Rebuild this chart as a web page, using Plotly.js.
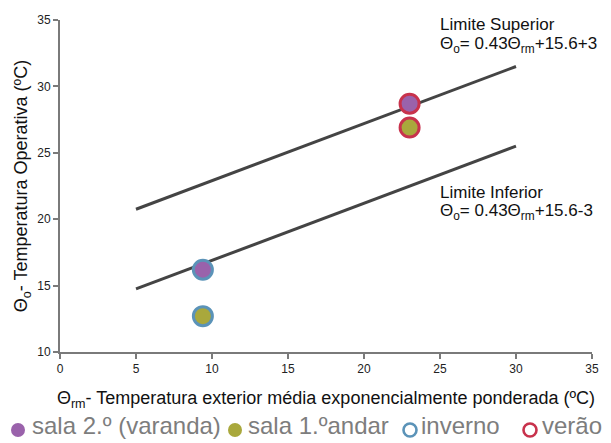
<!DOCTYPE html>
<html>
<head>
<meta charset="utf-8">
<script src="https://cdn.plot.ly/plotly-3.0.1.min.js"></script>
<style>html,body{margin:0;padding:0;background:#fff;}#chart{width:611px;height:443px;}</style>
</head>
<body>
<div id="chart"></div>
<script>
// Data
const seasons = ['inverno', 'verão'];
const rooms = ['sala 2.º (varanda)', 'sala 1.ºandar'];
const trm = [9.4, 23.0];                 // Θrm per season (inverno, verão)
const sala2 = [16.2, 28.7];              // sala 2.º (varanda)
const sala1 = [12.7, 26.9];              // sala 1.º andar
const limitX = [5, 30];
const limiteSuperior = [20.75, 31.5];
const limiteInferior = [14.75, 25.5];
const xTicks = [0, 5, 10, 15, 20, 25, 30, 35];
const yTicks = [10, 15, 20, 25, 30, 35];
const legendLabels = [rooms[0], rooms[1], seasons[0], seasons[1]];

const purple = '#9a62ab';
const olive = '#a9a83c';
const blue = '#5b93b8';
const red = '#c8324c';
const seasonColor = [blue, red];

const traces = [
  {x: limitX, y: limiteSuperior, mode: 'lines', line: {color: '#444', width: 3}, showlegend: false, hoverinfo: 'skip'},
  {x: limitX, y: limiteInferior, mode: 'lines', line: {color: '#444', width: 3}, showlegend: false, hoverinfo: 'skip'},
  {x: trm, y: sala2, mode: 'markers', name: rooms[0], showlegend: false,
   marker: {size: 19, color: purple, line: {color: seasonColor, width: 3}}},
  {x: trm, y: sala1, mode: 'markers', name: rooms[1], showlegend: false,
   marker: {size: 19, color: olive, line: {color: seasonColor, width: 3}}}
];

// plot area in pixels: x 60..592, y 20..352
const L = 60, R = 592, T = 20, B = 352;
const px = v => (v - L) / (R - L);
const py = v => (B - v) / (B - T);

const axisCommon = {
  showgrid: false, zeroline: false, showline: true, linecolor: '#7a7a7a', linewidth: 2,
  ticks: 'outside', ticklen: 5, tickwidth: 2, tickcolor: '#7a7a7a',
  tickfont: {size: 12, color: '#222'}, automargin: false
};

// legend built as shapes + text
const legendIcon = [
  {cx: 18, color: purple, open: false},
  {cx: 235, color: olive, open: false},
  {cx: 410, color: blue, open: true},
  {cx: 530, color: red, open: true}
];
const legendTextX = [30, 246, 419, 540];

const shapes = legendIcon.map(it => ({
  type: 'circle', xref: 'paper', yref: 'paper', xsizemode: 'pixel', ysizemode: 'pixel',
  xanchor: px(it.cx), yanchor: py(430),
  x0: it.open ? -6.5 : -7, x1: it.open ? 6.5 : 7, y0: it.open ? -6.5 : -7, y1: it.open ? 6.5 : 7,
  fillcolor: it.open ? 'rgba(0,0,0,0)' : it.color,
  line: {color: it.color, width: it.open ? 2.6 : 0}
}));

const annotations = legendLabels.map((t, i) => ({
  xref: 'paper', yref: 'paper', x: px(legendTextX[i]), y: py(425), xanchor: 'left', yanchor: 'middle',
  showarrow: false, text: t, font: {size: 24, color: '#7d7d7d'}
}));

const eqFont = {size: 17, color: '#111'};
annotations.push(
  {xref: 'paper', yref: 'paper', x: px(438), y: py(24.5), xanchor: 'left', yanchor: 'middle', showarrow: false,
   text: 'Limite Superior', font: eqFont},
  {xref: 'paper', yref: 'paper', x: px(438), y: py(44.5), xanchor: 'left', yanchor: 'middle', showarrow: false,
   text: 'Θ<sub>o</sub>= 0.43Θ<sub>rm</sub>+15.6+3', font: eqFont},
  {xref: 'paper', yref: 'paper', x: px(438), y: py(192), xanchor: 'left', yanchor: 'middle', showarrow: false,
   text: 'Limite Inferior', font: eqFont},
  {xref: 'paper', yref: 'paper', x: px(438), y: py(212), xanchor: 'left', yanchor: 'middle', showarrow: false,
   text: 'Θ<sub>o</sub>= 0.43Θ<sub>rm</sub>+15.6-3', font: eqFont}
);

const layout = {
  width: 611, height: 443,
  margin: {l: L, r: 611 - R, t: T, b: 443 - B},
  paper_bgcolor: '#fff', plot_bgcolor: '#fff',
  font: {family: 'Liberation Sans, Arial, sans-serif', color: '#222'},
  showlegend: false,
  xaxis: Object.assign({}, axisCommon, {
    range: [0, 35], tickvals: xTicks, ticktext: xTicks.map(String),
    title: {text: 'Θ<sub>rm</sub>- Temperatura exterior média exponencialmente ponderada (ºC)', font: {size: 18, color: '#111'}, standoff: 16}
  }),
  yaxis: Object.assign({}, axisCommon, {
    range: [10, 35], tickvals: yTicks, ticktext: yTicks.map(String),
    title: {text: 'Θ<sub>o</sub>- Temperatura Operativa (ºC)', font: {size: 18, color: '#111'}, standoff: 5}
  }),
  shapes: shapes,
  annotations: annotations
};

Plotly.newPlot('chart', traces, layout, {displayModeBar: false, staticPlot: true});
</script>
</body>
</html>
